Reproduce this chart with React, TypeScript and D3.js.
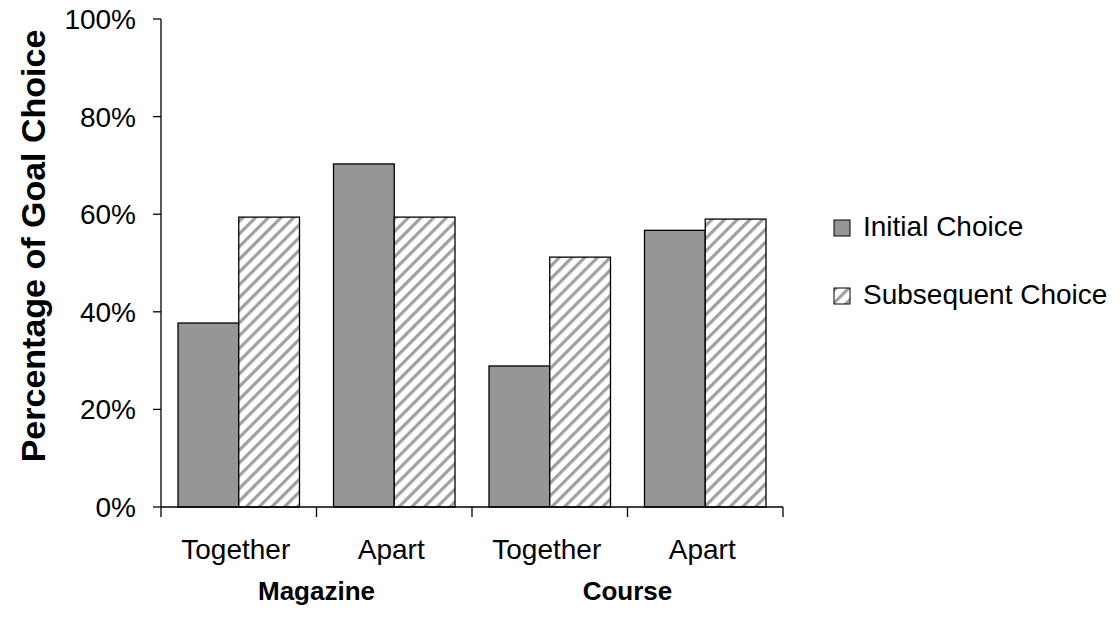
import React from 'react';
import * as d3 from 'd3';

const groups = ['Magazine', 'Course'];
const conditions = ['Together', 'Apart', 'Together', 'Apart'];
const seriesNames = ['Initial Choice', 'Subsequent Choice'];
const initialChoice = [37.7, 70.3, 28.9, 56.7];
const subsequentChoice = [59.4, 59.4, 51.2, 59.0];
const yTicks = [0, 20, 40, 60, 80, 100];

const W = 1120;
const H = 637;
const margin = { top: 19, left: 161, bottom: 130, right: 337 };

const App = () => {
  const plotBottom = H - margin.bottom; // 507
  const plotRight = W - margin.right; // 783

  const y = d3.scaleLinear().domain([0, 100]).range([plotBottom, margin.top]);

  const x = d3
    .scaleBand<number>()
    .domain(d3.range(conditions.length))
    .range([margin.left, plotRight])
    .paddingInner(0)
    .paddingOuter(0);

  const xs = d3
    .scaleBand<number>()
    .domain([0, 1])
    .range([0, x.bandwidth()])
    .paddingInner(0)
    .paddingOuter(0.28);

  const series = [initialChoice, subsequentChoice];
  const fills = ['#969696', 'url(#stripes)'];
  const font = 'Arial, "Liberation Sans", sans-serif';

  // category boundaries for tick marks
  const catTicks = d3.range(conditions.length + 1).map((i) => margin.left + i * x.step());

  return (
    <svg width={W} height={H} style={{ position: 'absolute', left: 0, top: 0, background: 'white' }}>
      <defs>
        <pattern id="stripes" patternUnits="userSpaceOnUse" width="9" height="9" patternTransform="rotate(45)">
          <rect width="9" height="9" fill="white" />
          <rect x="0" y="0" width="3.2" height="9" fill="#a0a0a0" />
        </pattern>
      </defs>
      <rect width={W} height={H} fill="white" />

      {/* bars */}
      {conditions.map((c, i) =>
        series.map((s, j) => (
          <rect
            key={`${i}-${j}`}
            x={(x(i) as number) + (xs(j) as number)}
            y={y(s[i])}
            width={xs.bandwidth()}
            height={plotBottom - y(s[i])}
            fill={fills[j]}
            stroke="#000"
            strokeWidth={1.3}
          />
        ))
      )}

      {/* y axis */}
      <line x1={margin.left} x2={margin.left} y1={margin.top} y2={plotBottom} stroke="#000" strokeWidth={1.3} />
      {yTicks.map((t) => (
        <g key={t}>
          <line x1={margin.left - 8} x2={margin.left} y1={y(t)} y2={y(t)} stroke="#000" strokeWidth={1.3} />
          <text
            x={margin.left - 25}
            y={y(t)}
            dy="0.36em"
            textAnchor="end"
            fontFamily={font}
            fontSize={28}
            fill="#000"
          >
            {t}%
          </text>
        </g>
      ))}

      {/* x axis */}
      <line x1={margin.left} x2={plotRight} y1={plotBottom} y2={plotBottom} stroke="#000" strokeWidth={1.3} />
      {catTicks.map((t, i) => (
        <line key={i} x1={t} x2={t} y1={plotBottom} y2={plotBottom + 10} stroke="#000" strokeWidth={1.3} />
      ))}
      {conditions.map((c, i) => (
        <text
          key={i}
          x={(x(i) as number) + x.bandwidth() / 2 - 3}
          y={559}
          textAnchor="middle"
          fontFamily={font}
          fontSize={28}
          fill="#000"
        >
          {c}
        </text>
      ))}
      {groups.map((g, i) => (
        <text
          key={g}
          x={(x(i * 2) as number) + x.bandwidth()}
          y={600}
          textAnchor="middle"
          fontFamily={font}
          fontSize={26}
          fontWeight="bold"
          fill="#000"
        >
          {g}
        </text>
      ))}

      {/* y title */}
      <text
        transform={`translate(45,246) rotate(-90)`}
        textAnchor="middle"
        fontFamily={font}
        fontSize={34}
        fontWeight="bold"
        fill="#000"
      >
        Percentage of Goal Choice
      </text>

      {/* legend */}
      {seriesNames.map((n, j) => (
        <g key={n} transform={`translate(834,${220 + j * 68})`}>
          <rect x={0} y={0} width={16} height={16} fill={fills[j]} stroke="#000" strokeWidth={1} />
          <text x={29} y={16} fontFamily={font} fontSize={28} fill="#000">
            {n}
          </text>
        </g>
      ))}
    </svg>
  );
};

export default App;
